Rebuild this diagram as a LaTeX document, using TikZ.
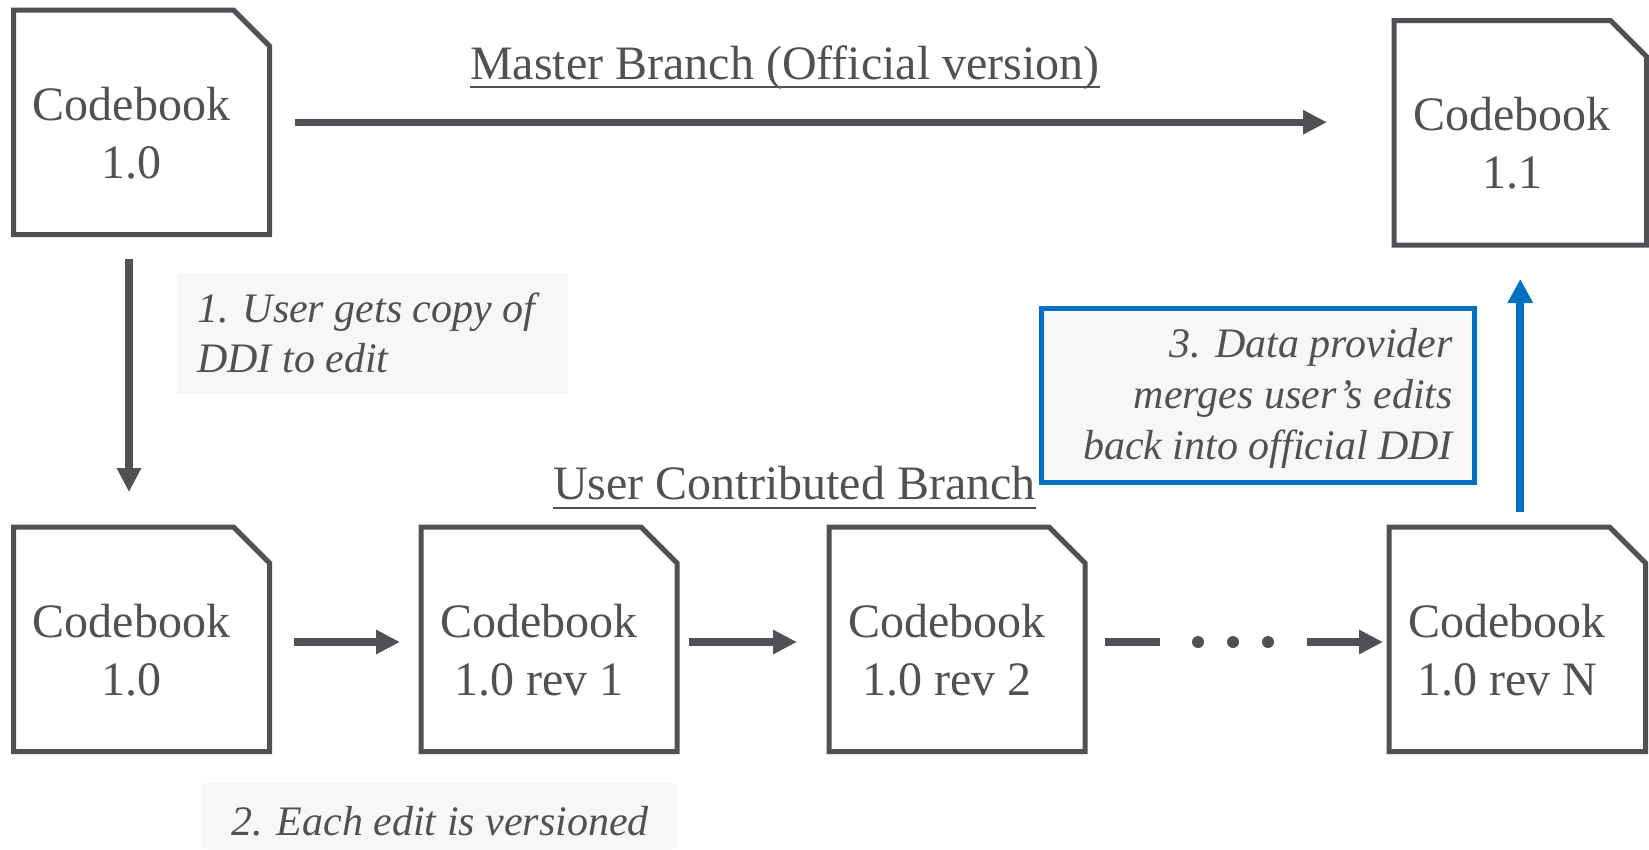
\documentclass[tikz,border=0pt]{standalone}
\usepackage{fontspec}
\setmainfont{Liberation Serif}
\usetikzlibrary{arrows.meta}

\definecolor{ink}{HTML}{505055}
\definecolor{mergeblue}{HTML}{0070C0}
\definecolor{paper}{HTML}{F7F7F7}

% lines of text stacked on a common baseline grid; the node's base is the first line
\newcommand\txtstack[2]{\begin{tabular}[t]{@{}#1@{}}#2\end{tabular}}

% a codebook document: name, left, top, width, text
\newcommand\docbox[5]{%
  \node[docarea, minimum width=#4pt] (#1) at ({#2+#4/2},{#3+112.25}) {};
  \draw[docline] (#1.south west) -- (#1.north west)
    -- ([xshift=-36pt]#1.north east) -- ([yshift=-36pt]#1.north east)
    -- (#1.south east) -- cycle;
  \node[doctext] (#1-t) at ([xshift=118pt,yshift=-110pt]#1.north west) {\txtstack{c}{#5}};
}

\tikzset{
  docarea/.style={rectangle, draw=none, inner sep=0pt, outer sep=0pt, minimum height=224.5pt},
  docline/.style={draw=ink, line width=5pt, line join=miter},
  doctext/.style={anchor=base, inner sep=0pt, text=ink, font=\fontsize{48}{58}\selectfont},
  arr/.style={draw=ink, line width=7.5pt, -{Triangle[length=24pt,width=23pt]}},
  barr/.style={draw=mergeblue, line width=8pt, -{Triangle[length=24pt,width=24pt]}},
  notebg/.style={rectangle, fill=paper, draw=none, inner sep=0pt, outer sep=0pt},
  note/.style={inner sep=0pt, text=ink, font=\fontsize{42}{50}\selectfont\itshape},
  branch/.style={anchor=base west, inner sep=0pt, text=ink, font=\fontsize{48}{58}\selectfont},
  uline/.style={draw=ink, line width=2.5pt},
}

\begin{document}
\begin{tikzpicture}[x=1pt, y=-1pt]
  \useasboundingbox[fill=white] (0,0) rectangle (1649,849);

  % backgrounds of the step notes
  \node[notebg, minimum width=391pt, minimum height=122pt] (step1) at (372.5,334) {};
  \node[notebg, minimum width=475pt, minimum height=66pt] (step2) at (439.5,816) {};
  \node[notebg, draw=mergeblue, line width=5pt, minimum width=433pt, minimum height=173.5pt] (step3) at (1257.5,395.25) {};

  % codebook documents
  \docbox{b0}{13.5}{10}{256}{Codebook\\1.0}
  \docbox{b11}{1394}{20.5}{252.5}{Codebook\\1.1}
  \docbox{c0}{13.5}{527}{256}{Codebook\\1.0}
  \docbox{c1}{421}{527}{256}{Codebook\\1.0 rev 1}
  \docbox{c2}{829}{527}{256}{Codebook\\1.0 rev 2}
  \docbox{c3}{1389}{527}{256.5}{Codebook\\1.0 rev N}

  % branch titles
  \node[branch] (master) at (470,79) {Master Branch (Official version)};
  \draw[uline] ([yshift=-8pt]master.base west) -- ([yshift=-8pt]master.base east);
  \node[branch] (user) at (553,499) {User Contributed Branch};
  \draw[uline] ([yshift=-9pt]user.base west) -- ([yshift=-9pt]user.base east);

  % step notes
  \node[note, anchor=base west] (step1-t) at (197,322) {\txtstack{l}{1. User gets copy of\\DDI to edit}};
  \node[note, anchor=base] (step2-t) at (440,835) {2. Each edit is versioned};
  \node[note, anchor=base east, font=\fontsize{42}{51}\selectfont\itshape] (step3-t) at (1453,357)
    {\txtstack{r}{3. Data provider\\merges user’s edits\\back into official DDI}};

  % master branch
  \draw[arr] ([xshift=25pt]b0.east) -- ([xshift=-67pt]b0.east -| b11.west);

  % branching off a copy
  \draw[arr] ([xshift=-12.5pt,yshift=-24.5pt]b0.south) -- ([xshift=-12.5pt,yshift=35pt]c0.north);

  % revisions along the user branch
  \draw[arr] ([shift={(24.5pt,-2.75pt)}]c0.east) -- ([shift={(-21pt,-2.75pt)}]c1.west);
  \draw[arr] ([shift={(12pt,-2.75pt)}]c1.east) -- ([shift={(-32pt,-2.75pt)}]c2.west);
  \coordinate (gapA) at ([shift={(20pt,-2.75pt)}]c2.east);
  \coordinate (gapB) at ([shift={(75pt,-2.75pt)}]c2.east);
  \draw[draw=ink, line width=7.5pt] (gapA) -- (gapB);
  \foreach \dx in {113,148,183}
    \fill[ink] ([shift={(\dx pt,-2.75pt)}]c2.east) circle (6pt);
  \draw[arr] ([shift={(-82pt,-2.75pt)}]c3.west) -- ([shift={(-6pt,-2.75pt)}]c3.west);

  % merge back into the official version
  \draw[barr] ([yshift=15pt]b11.south |- c3.north) -- ([yshift=-34pt]b11.south);
\end{tikzpicture}
\end{document}
